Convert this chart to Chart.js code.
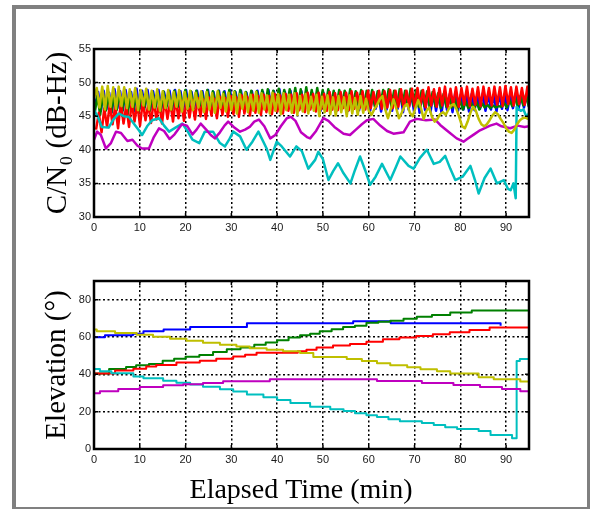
<!DOCTYPE html>
<html lang="en">
<head>
<meta charset="UTF-8">
<title>C/N0 and elevation per satellite</title>
<script src="https://cdn.jsdelivr.net/npm/chart.js"></script>
<style>
  body { margin: 0; background: #fff; }
  .frame {
    position: absolute; left: 12px; top: 5px; width: 578px; height: 504px;
    box-sizing: border-box; border-style: solid; border-color: #808080;
    border-width: 4px 3px 2px 4px;
  }
  canvas { position: absolute; left: 0; }
  #cnChart { top: 0; }
  #elChart { top: 250px; }
</style>
</head>
<body>
<div class="frame"></div>
<canvas id="cnChart" width="591" height="250"></canvas>
<canvas id="elChart" width="591" height="260"></canvas>

<script>
// axis ticks
const timeTicks = [0, 10, 20, 30, 40, 50, 60, 70, 80, 90];
const cnTicks = [30, 35, 40, 45, 50, 55];
const elTicks = [0, 20, 40, 60, 80];

// fast-fading C/N0 tracks, one sample every 0.6 min; each track has its own first sample time
const SAMPLE_STEP = 0.6;
const startTime = { yellow: 0, blue: 0.3, green: 0.15, red: 0.45 };

const cnBlue = [
  46.8, 48.6, 45.8, 48.8, 46.0, 48.5, 45.6, 49.0, 46.2, 48.7,
  45.9, 48.9, 46.3, 48.6, 45.7, 49.1, 46.1, 48.8, 46.4, 48.9,
  46.0, 48.7, 46.5, 48.9, 46.2, 48.6, 46.6, 48.8, 46.1, 48.9,
  46.4, 48.7, 46.0, 48.9, 46.5, 48.6, 46.2, 48.8, 46.6, 48.7,
  46.3, 48.9, 46.1, 48.6, 46.5, 48.8, 46.0, 48.7, 46.4, 48.9,
  46.2, 48.6, 46.6, 48.8, 46.1, 48.5, 46.4, 48.7, 46.0, 48.8,
  46.5, 48.6, 46.2, 48.9, 46.4, 48.7, 46.1, 49.0, 46.3, 48.6,
  46.0, 48.8, 46.5, 48.5, 46.2, 48.7, 45.9, 48.6, 46.3, 48.4,
  46.1, 48.6, 45.8, 48.5, 46.2, 48.7, 46.0, 48.4, 45.9, 48.6,
  46.3, 48.5, 45.8, 48.6, 46.1, 48.4, 45.9, 48.7, 46.2, 48.5,
  45.8, 48.4, 46.1, 48.6, 45.7, 48.5, 46.0, 48.3, 45.8, 48.6,
  46.1, 48.4, 45.6, 48.5, 46.0, 48.3, 45.7, 48.6, 45.5, 48.4,
  45.9, 48.3, 45.6, 48.5, 45.8, 48.2, 45.5, 48.4, 45.9, 48.3,
  45.6, 48.5, 45.8, 48.2, 46.0, 48.4, 45.7, 48.3, 45.9, 48.1,
  46.1, 48.4, 45.8, 48.3, 46.0, 48.2, 45.7, 48.4, 46.1, 48.3,
  45.9, 48.2, 46.2, 48.4, 46.0, 48.3, 46.3, 48.1, 46.1, 48.2
];

const cnGreen = [
  45.5, 48.0, 45.2, 48.3, 45.8, 47.9, 45.4, 48.2, 45.9, 48.4,
  45.6, 48.3, 45.3, 48.5, 45.8, 48.2, 45.5, 48.6, 45.9, 48.4,
  45.7, 48.6, 46.0, 48.4, 45.6, 48.7, 46.1, 48.5, 45.8, 48.8,
  46.0, 48.6, 46.2, 48.9, 45.9, 48.7, 46.3, 48.8, 46.0, 48.6,
  46.2, 48.9, 46.0, 48.7, 46.4, 48.8, 46.1, 48.6, 46.3, 48.9,
  46.0, 48.7, 46.5, 48.9, 46.2, 48.6, 46.4, 48.8, 46.1, 48.7,
  46.4, 48.9, 46.2, 49.0, 46.5, 48.8, 46.3, 49.1, 46.4, 48.9,
  46.6, 49.0, 46.3, 49.2, 46.5, 49.0, 46.2, 49.3, 46.6, 48.9,
  46.4, 49.2, 46.7, 48.9, 46.3, 49.0, 46.6, 48.8, 46.4, 48.9,
  46.6, 48.8, 46.3, 49.0, 46.5, 48.7, 46.7, 48.9, 46.4, 48.8,
  46.6, 48.9, 46.4, 48.7, 46.7, 48.9, 46.5, 49.0, 46.6, 48.8,
  46.4, 49.0, 46.7, 48.8, 46.5, 49.1, 46.6, 48.9, 46.4, 48.8,
  46.5, 48.7, 46.3, 48.6, 46.5, 48.4, 46.2, 48.3, 46.4, 47.9,
  46.3, 47.6, 46.1, 47.3, 46.0, 47.2, 46.2, 47.0, 46.1, 47.1,
  46.0, 46.9, 46.3, 46.7, 46.2, 46.6, 46.3, 46.5, 46.4, 47.0,
  46.3, 47.4, 46.5, 47.8, 46.4, 48.0, 46.6, 48.2, 46.5, 48.1
];

const cnRed = [
  43.0, 45.5, 42.6, 46.2, 43.4, 46.8, 43.8, 46.5, 43.2, 47.0,
  43.9, 46.6, 43.4, 47.1, 44.2, 46.9, 43.6, 47.2, 44.4, 46.8,
  44.0, 47.3, 44.5, 47.0, 43.9, 47.4, 44.6, 47.2, 44.2, 47.5,
  44.7, 47.3, 44.3, 47.6, 44.8, 47.4, 44.5, 47.7, 45.0, 47.5,
  44.6, 47.8, 45.1, 47.6, 44.7, 47.9, 45.2, 47.7, 44.9, 48.0,
  45.3, 47.8, 44.9, 48.1, 45.4, 47.9, 45.1, 48.2, 45.5, 48.0,
  45.2, 48.2, 45.6, 48.0, 45.3, 48.3, 45.7, 48.1, 45.4, 48.3,
  45.8, 48.2, 45.5, 48.4, 45.9, 48.2, 45.6, 48.5, 46.0, 48.3,
  45.7, 48.5, 46.1, 48.3, 45.8, 48.6, 46.0, 48.4, 45.9, 48.6,
  46.2, 48.5, 45.9, 48.7, 46.1, 48.5, 46.3, 48.7, 46.0, 48.8,
  46.2, 48.6, 46.4, 48.8, 46.1, 48.7, 46.3, 48.9, 46.2, 48.8,
  46.4, 49.0, 46.2, 48.8, 46.5, 49.1, 46.3, 49.2, 46.5, 48.9,
  46.3, 49.3, 46.6, 49.0, 46.4, 49.2, 46.6, 49.4, 46.3, 49.1,
  46.6, 49.3, 46.4, 49.2, 46.7, 49.4, 46.5, 49.1, 46.7, 49.3,
  46.5, 49.4, 46.8, 49.2, 46.6, 49.4, 46.7, 49.3, 46.5, 49.5,
  46.8, 49.3, 46.6, 49.4, 46.8, 49.2, 46.7, 49.4, 46.9, 49.3
];

const cnYellow = [
  47.6, 49.2, 46.3, 49.4, 46.0, 49.5, 46.4, 49.3, 46.1, 49.4,
  46.5, 49.3, 46.2, 49.0, 46.4, 49.2, 45.9, 48.9, 46.6, 49.1,
  46.0, 48.8, 46.3, 49.0, 45.8, 48.7, 46.2, 48.9, 46.0, 48.6,
  46.4, 48.9, 45.7, 48.6, 46.1, 48.8, 45.9, 48.5, 46.3, 48.7,
  45.6, 48.6, 46.0, 48.4, 45.5, 48.7, 46.2, 48.3, 45.7, 48.5,
  45.9, 48.6, 45.4, 48.3, 46.1, 48.5, 45.6, 48.2, 45.8, 48.6,
  45.5, 48.4, 46.0, 48.1, 45.4, 48.5, 45.8, 48.3, 45.3, 48.4,
  45.9, 48.2, 45.5, 48.4, 45.2, 48.0, 45.7, 48.3, 45.4, 47.9,
  45.8, 48.2, 45.0, 47.9, 45.6, 48.1, 45.3, 47.8, 45.1, 48.0,
  45.6, 47.8, 45.0, 48.1, 45.4, 47.7, 45.2, 48.0, 45.5, 47.6,
  45.8, 45.2, 46.0, 46.7, 47.5, 48.0, 46.0, 44.7, 46.0, 47.5,
  46.2, 44.7, 45.5, 46.5, 46.8, 45.5, 45.0, 46.2, 47.4, 46.2,
  44.6, 45.8, 46.3, 44.9, 44.2, 44.6, 45.3, 45.6, 45.2, 46.0,
  46.6, 46.8, 46.0, 44.8, 43.5, 43.2, 44.2, 45.5, 46.4, 45.8,
  44.6, 43.8, 43.5, 43.8, 44.4, 45.1, 45.6, 45.3, 44.6, 44.0,
  43.2, 42.7, 42.5, 43.0, 43.8, 44.4, 44.7, 44.8, 44.6, 44.5
];

// slower C/N0 tracks as [minute, dB-Hz]
const cnMagenta = [
  [0, 41.5], [0.7, 42.7], [1.5, 42.2], [2.6, 40.2], [3.7, 41.0], [4.8, 42.7], [5.9, 42.5],
  [7.3, 41.3], [8.4, 41.5], [9.5, 40.6], [10.5, 40.2], [12, 40.2], [13, 41.8], [14.2, 43.2],
  [15.3, 42.8], [16.5, 41.6], [17.6, 42.3], [19.2, 43.8], [20.3, 43.6], [21.5, 42.3],
  [22.4, 43.0], [23.3, 43.9], [24.5, 43.0], [25.5, 42.2], [26.4, 41.7], [27.5, 42.6],
  [28.5, 43.6], [29.3, 44.2], [30.5, 43.4], [31.9, 42.7], [33, 43.0], [34, 43.4], [35, 44.2],
  [36, 44.5], [37.2, 43.5], [38.5, 41.7], [39.6, 42.2], [40.8, 43.5], [42.1, 44.7], [43, 44.9],
  [44, 44.3], [45.2, 42.6], [46.5, 41.9], [47.2, 41.7], [48.5, 42.8], [50.1, 44.7], [51.2, 44.3],
  [52.5, 43.4], [54.5, 42.4], [55.9, 42.2], [57.2, 43.0], [58.5, 43.8], [59.6, 44.4], [61, 44.6],
  [62.5, 43.6], [64, 42.8], [65.4, 42.4], [67.6, 42.6], [69, 44.2], [70.5, 44.6], [72.5, 44.4],
  [74.5, 44.5], [75.6, 43.7], [77.2, 42.8], [79.2, 41.7], [80.7, 41.2], [81.5, 41.6], [83, 42.3],
  [84.3, 42.9], [86.5, 43.6], [87.9, 43.9], [89, 43.5], [90.9, 43.2], [92.5, 43.6], [94, 43.4],
  [95, 43.5]
];

const cnCyan = [
  [0, 45.9], [0.8, 45.0], [1.7, 43.4], [3.2, 43.3], [4.2, 44.5], [5.4, 45.4], [6.5, 45.0],
  [7.6, 44.9], [8.8, 43.8], [9.8, 42.9], [10.5, 42.2], [11.6, 43.5], [12.7, 44.4], [14.2, 44.7],
  [15.3, 43.6], [16.4, 42.7], [17.8, 43.3], [19.3, 43.9], [20.4, 42.8], [21.5, 41.5], [23, 41.0],
  [24.2, 42.7], [26, 42.7], [27.5, 41.0], [28.6, 40.5], [29.5, 41.5], [30.4, 42.7], [31.9, 42.0],
  [33.3, 40.0], [34.6, 41.2], [35.9, 42.7], [37.7, 40.2], [38.5, 38.5], [39.9, 41.2], [41, 40.5],
  [42.8, 39.0], [44.2, 40.5], [45.4, 39.8], [46.8, 37.2], [48.3, 38.5], [49, 39.7], [50, 38.6],
  [51.2, 35.5], [52.2, 36.8], [53.3, 38.0], [54.5, 36.5], [56, 35.0], [57, 37.0], [58.1, 39.0],
  [59.2, 37.0], [60.3, 34.8], [61.5, 36.0], [62.9, 37.9], [64.7, 35.5], [65.8, 37.2], [66.9, 39.0],
  [68.7, 37.6], [69.8, 37.2], [71.2, 38.8], [72.7, 40.0], [74.2, 37.9], [75.5, 38.2], [76.7, 39.1],
  [77.8, 37.2], [78.9, 35.5], [80.5, 36.0], [82.2, 37.6], [83.2, 35.5], [84, 33.5], [85.3, 35.8],
  [86.6, 37.2], [88, 35.0], [89.5, 35.5], [90.4, 34.2], [91, 34.0], [91.6, 35.0], [92.1, 32.8],
  [92.3, 46.4], [93.2, 45.8], [93.8, 46.0], [94.5, 44.8], [95, 45.5]
];

// elevation steps as [minute, degrees]; each point is where the new value starts
const elBlue = [
  [0, 59.9], [2.4, 61.0], [8.5, 61.8], [10.8, 63.1], [15.2, 64.0], [21, 65.3], [33.4, 67.4],
  [56.6, 68.4], [64.8, 67.4], [88.3, 67.4], [88.8, 66.0]
];
const elGreen = [
  [0, 40.4], [3.3, 42.8], [7, 43.9], [9.2, 44.9], [12, 45.5], [15, 47.3], [17.5, 48.3], [20, 49.4],
  [23, 50.4], [26, 52.0], [29, 53.4], [32, 54.4], [35, 55.8], [37.5, 57.0], [40, 58.3], [42.5, 59.7],
  [45, 60.9], [47.2, 61.8], [49.3, 63.1], [51.9, 64.2], [54.4, 65.3], [57, 66.0], [59.5, 67.6],
  [62.1, 68.2], [64.7, 68.7], [67.6, 69.8], [70.5, 70.9], [73.8, 71.8], [77.8, 73.1], [82.5, 74.2],
  [95, 74.2]
];
const elRed = [
  [0, 40.4], [4.6, 42.0], [8.6, 43.0], [11.4, 44.2], [13.6, 45.0], [18, 46.4], [23.1, 47.3],
  [26.7, 48.4], [30.4, 49.5], [33, 50.5], [35.5, 51.6], [44.5, 52.4], [46.4, 53.2], [48.6, 54.4],
  [52.2, 55.5], [55.9, 56.3], [59.5, 57.5], [63.1, 58.8], [66.7, 59.7], [70.4, 60.6], [74, 61.5],
  [77.7, 62.6], [82, 63.8], [86.4, 65.1], [95, 65.1]
];
const elYellow = [
  [0, 64.0], [0.6, 63.1], [4.6, 62.2], [9.3, 61.2], [12.9, 60.1], [16.6, 59.0], [20.2, 58.0],
  [23.8, 56.9], [27.5, 55.8], [31.1, 54.9], [34, 54.0], [37.7, 53.2], [41.3, 52.4], [45, 51.4],
  [47.9, 49.3], [55.2, 48.2], [58.5, 47.1], [61.8, 46.0], [64.7, 44.9], [68.4, 43.8], [71.3, 42.7],
  [74.9, 41.6], [77.8, 40.5], [84, 38.4], [87.3, 37.3], [93.1, 36.2], [95, 36.2]
];
const elMagenta = [
  [0, 29.9], [1.3, 30.9], [5.3, 32.1], [10, 33.2], [15.1, 34.1], [19.5, 34.7], [23.8, 35.4],
  [28.2, 36.3], [38.4, 37.3], [61.8, 36.4], [71.6, 35.4], [78.5, 34.3], [84.3, 33.2], [89.1, 32.1],
  [93.1, 31.0], [95, 31.0]
];
const elCyan = [
  [0, 42.8], [1.3, 41.7], [3.8, 40.6], [8.6, 38.8], [10.8, 37.9], [15.1, 36.6], [18, 35.5],
  [21, 34.5], [23.8, 33.4], [27.5, 32.0], [30.4, 30.8], [33.4, 29.2], [37, 27.7], [40, 26.3],
  [42.9, 24.7], [47.2, 22.6], [51.6, 21.3], [54.5, 20.3], [57, 19.2], [59.5, 18.1], [61.8, 17.1],
  [64.3, 16.0], [66.8, 14.9], [71.6, 13.9], [74.2, 12.8], [76.7, 11.7], [79.3, 10.7], [84, 9.6],
  [86.6, 7.5], [91.3, 5.7], [92.3, 47.1], [93, 48.2], [95, 48.2]
];

const colors = {
  blue: '#0000ff', green: '#008000', red: '#ff0000',
  cyan: '#00bfbf', magenta: '#bf00bf', yellow: '#bfbf00'
};

const sampled = (values, t0) =>
  values.map((v, i) => ({ x: Math.round((t0 + i * SAMPLE_STEP) * 100) / 100, y: v }));
const pairs = list => list.map(([x, y]) => ({ x, y }));

const tickFont = { family: '"Liberation Sans", Arial, sans-serif', size: 11 };
const titleFont = { family: '"Liberation Serif", "Times New Roman", serif', size: 29 };

// closed box with inward tick marks, like a plotting package's axes
const boxAxes = {
  id: 'boxAxes',
  afterDraw(chart) {
    const { ctx, chartArea: a, scales: { x, y } } = chart;
    ctx.save();
    ctx.strokeStyle = '#000';
    ctx.lineWidth = 1.5;
    ctx.beginPath();
    x.ticks.forEach(t => {
      const px = x.getPixelForValue(t.value);
      ctx.moveTo(px, a.top); ctx.lineTo(px, a.top + 4);
      ctx.moveTo(px, a.bottom); ctx.lineTo(px, a.bottom - 4);
    });
    y.ticks.forEach(t => {
      const py = y.getPixelForValue(t.value);
      ctx.moveTo(a.left, py); ctx.lineTo(a.left + 4, py);
      ctx.moveTo(a.right, py); ctx.lineTo(a.right - 4, py);
    });
    ctx.stroke();
    ctx.lineWidth = 2.5;
    ctx.strokeRect(a.left, a.top, a.right - a.left, a.bottom - a.top);
    ctx.restore();
  }
};

function xAxis(height, title) {
  return {
    type: 'linear', min: 0, max: 95,
    afterBuildTicks: s => { s.ticks = timeTicks.map(v => ({ value: v })); },
    afterFit: s => { s.height = height; },
    grid: { color: '#000', lineWidth: 1.5, drawTicks: false },
    border: { display: false, dash: [2, 2.5] },
    ticks: { font: tickFont, color: '#1a1a1a', padding: 4, maxRotation: 0, autoSkip: false },
    title: title
  };
}

function yAxis(min, max, ticks, text, pad) {
  return {
    type: 'linear', min: min, max: max,
    afterBuildTicks: s => { s.ticks = ticks.map(v => ({ value: v })); },
    afterFit: s => { s.width = 94; },
    grid: { color: '#000', lineWidth: 1.5, drawTicks: false },
    border: { display: false, dash: [2, 2.5] },
    ticks: { font: tickFont, color: '#1a1a1a', padding: 3, autoSkip: false },
    title: { display: true, text: text, font: titleFont, color: '#000', padding: { top: pad, bottom: 0 } }
  };
}

function line(label, points, color, width, stepped) {
  return {
    label: label, data: points, borderColor: color, backgroundColor: color,
    borderWidth: width, pointRadius: 0, tension: 0, stepped: stepped, fill: false,
    borderJoinStyle: 'round'
  };
}

const common = {
  responsive: false,
  animation: false,
  events: [],
  plugins: { legend: { display: false }, tooltip: { enabled: false } }
};

// first dataset is painted last, so yellow ends up on top like the original plot order
new Chart(document.getElementById('cnChart'), {
  type: 'line',
  data: {
    datasets: [
      line('yellow', sampled(cnYellow, startTime.yellow), colors.yellow, 2.5, false),
      line('magenta', pairs(cnMagenta), colors.magenta, 2.5, false),
      line('cyan', pairs(cnCyan), colors.cyan, 2.5, false),
      line('red', sampled(cnRed, startTime.red), colors.red, 2.5, false),
      line('green', sampled(cnGreen, startTime.green), colors.green, 2.5, false),
      line('blue', sampled(cnBlue, startTime.blue), colors.blue, 2.5, false)
    ]
  },
  options: Object.assign({}, common, {
    layout: { padding: { left: 0, top: 49, right: 62, bottom: 0 } },
    scales: {
      x: xAxis(33, { display: false }),
      y: yAxis(30, 55, cnTicks, 'C/N\u2080 (dB-Hz)', 41)
    }
  }),
  plugins: [boxAxes]
});

new Chart(document.getElementById('elChart'), {
  type: 'line',
  data: {
    datasets: [
      line('yellow', pairs(elYellow), colors.yellow, 2, 'before'),
      line('magenta', pairs(elMagenta), colors.magenta, 2, 'before'),
      line('cyan', pairs(elCyan), colors.cyan, 2, 'before'),
      line('red', pairs(elRed), colors.red, 2, 'before'),
      line('green', pairs(elGreen), colors.green, 2, 'before'),
      line('blue', pairs(elBlue), colors.blue, 2, 'before')
    ]
  },
  options: Object.assign({}, common, {
    layout: { padding: { left: 0, top: 31, right: 62, bottom: 0 } },
    scales: {
      // trailing spaces nudge the centred label a little to the left
      x: xAxis(61, {
        display: true, text: 'Elapsed Time (min)   ', color: '#000',
        font: { family: titleFont.family, size: 28 }, padding: { top: 0, bottom: 3 }
      }),
      y: yAxis(0, 90, elTicks, 'Elevation (\u00b0)', 40)
    }
  }),
  plugins: [boxAxes]
});
</script>
</body>
</html>
